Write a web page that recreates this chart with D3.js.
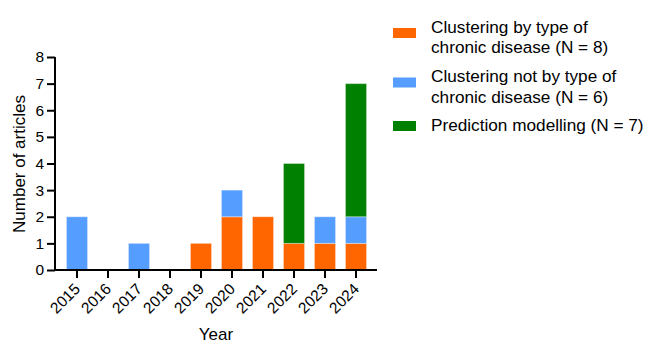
<!DOCTYPE html>
<html><head><meta charset="utf-8">
<script src="https://cdn.jsdelivr.net/npm/d3@7"></script>
<style>body{margin:0;background:#fff}svg{display:block}text{font-family:"Liberation Sans",Arial,sans-serif;fill:#000}</style>
</head><body><svg id="c" width="649" height="343"></svg>
<script>
const years = ["2015","2016","2017","2018","2019","2020","2021","2022","2023","2024"];
const byType = [0,0,0,0,1,2,2,1,1,1];
const notByType = [2,0,1,0,0,1,0,0,1,1];
const prediction = [0,0,0,0,0,0,0,3,0,5];
const seriesNames = ["Clustering by type of|chronic disease (N = 8)","Clustering not by type of|chronic disease (N = 6)","Prediction modelling (N = 7)"];
const colors = ["#FF6600","#559EFF","#008000"];
const yTicks = [0,1,2,3,4,5,6,7,8];

const svg = d3.select("#c");
const x = d3.scaleBand().domain(years).range([61.5,371.5]).paddingInner(0.32).paddingOuter(0.16);
const y = d3.scaleLinear().domain([0,8]).range([270,57]);

const rows = years.map((yr,i)=>({year:yr,a:byType[i],b:notByType[i],c:prediction[i]}));
const stack = d3.stack().keys(["a","b","c"])(rows);
svg.append("g").selectAll("g").data(stack).join("g").attr("fill",(d,i)=>colors[i])
  .selectAll("rect").data(d=>d.filter(v=>v[1]>v[0])).join("rect")
  .attr("x",d=>x(d.data.year)).attr("width",x.bandwidth())
  .attr("y",d=>y(d[1])).attr("height",d=>y(d[0])-y(d[1]))
  .attr("stroke","rgba(255,255,255,0.35)").attr("stroke-width",1);

// y axis
const ya = svg.append("g").attr("transform","translate(55,0)")
  .call(d3.axisLeft(y).tickValues(yTicks).tickFormat(d3.format("d")).tickSize(8).tickPadding(3));
ya.select(".domain").attr("stroke-width",2).attr("d","M0,"+y(8)+"V"+(y(0)+1));
ya.selectAll(".tick line").attr("stroke-width",2);
ya.selectAll("text").style("font-size","15.5px").attr("font-family",null);

// x axis
const xa = svg.append("g").attr("transform","translate(0,270)")
  .call(d3.axisBottom(x).tickSize(8).tickPadding(2));
xa.select(".domain").attr("stroke-width",2).attr("d","M54,0H377");
xa.selectAll(".tick line").attr("stroke-width",2);
xa.selectAll("text").style("font-size","15.5px").attr("font-family",null)
  .attr("text-anchor","end").attr("x",0).attr("y",0).attr("dy","0")
  .attr("transform","translate(4,20) rotate(-45)");

svg.append("text").attr("x",216).attr("y",340).attr("text-anchor","middle").style("font-size","17px").text("Year");
svg.append("text").attr("transform","translate(25,164) rotate(-90)").attr("text-anchor","middle").style("font-size","17px").text("Number of articles");

// legend
const legSw = [33,82.5,126];
const legBase = [[32.5,53],[82,102.5],[131]];
const lg = svg.append("g");
seriesNames.forEach((n,i)=>{
  lg.append("rect").attr("x",393).attr("y",legSw[i]-5).attr("width",23).attr("height",10).attr("fill",colors[i]);
  const lines = n.split("|");
  const t = lg.append("text").style("font-size","17.2px");
  lines.forEach((l,j)=>{
    t.append("tspan").attr("x",431).attr("y",legBase[i][j]).text(l);
  });
});
</script></body></html>
